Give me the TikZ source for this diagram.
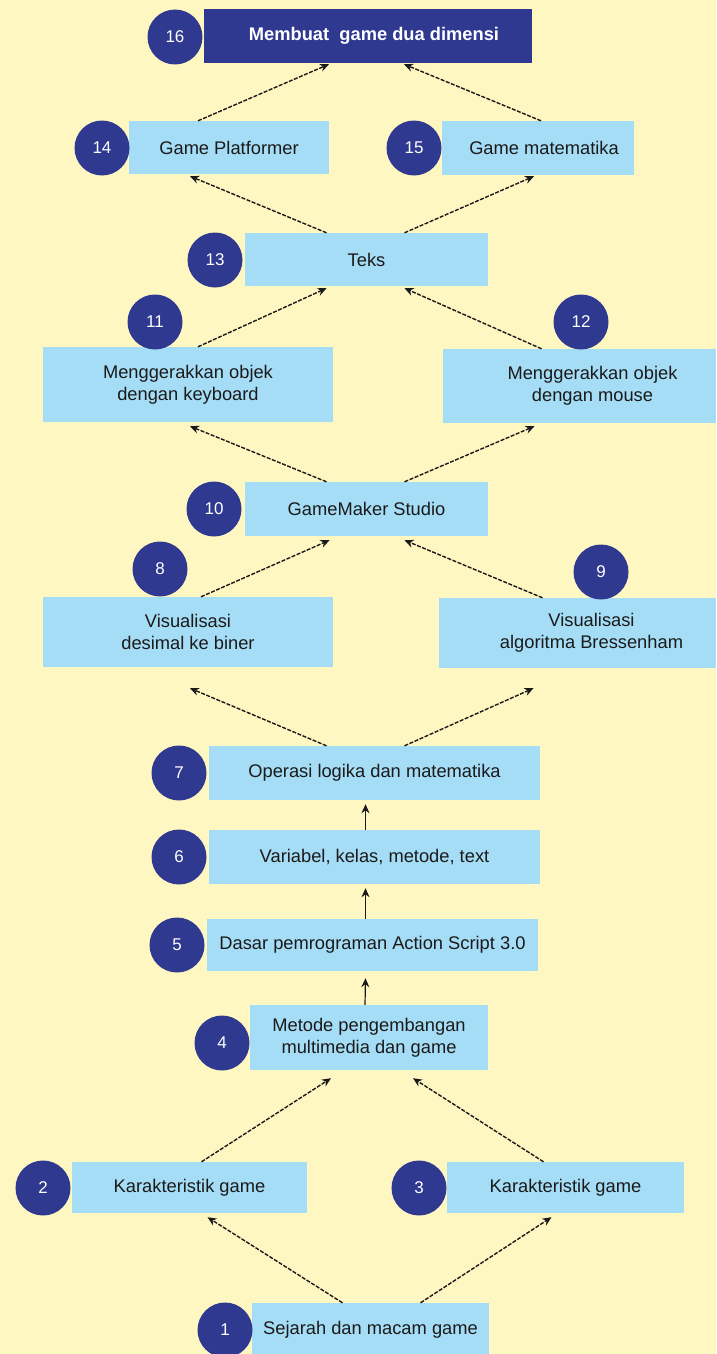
\documentclass[tikz,border=0pt]{standalone}
\usepackage{fontspec}
\setmainfont{Liberation Sans}
\usetikzlibrary{arrows.meta}
\definecolor{bgcolor}{HTML}{FFF7C2}
\definecolor{boxcolor}{HTML}{A6DDF6}
\definecolor{numcolor}{HTML}{2F3990}
\definecolor{linecolor}{HTML}{1A1A1A}

\begin{document}
\begin{tikzpicture}[x=1pt, y=-1pt,
    box/.style={fill=boxcolor, inner sep=0pt, align=center, text=linecolor,
      font=\fontsize{18.3}{21.7}\selectfont},
    topbox/.style={box, fill=numcolor, text=white, font=\fontsize{18.3}{21.7}\selectfont\bfseries},
    num/.style={circle, fill=numcolor, minimum size=55pt, inner sep=0pt, text=white,
      font=\fontsize{17}{17}\selectfont},
    link/.style={-{Stealth[length=9pt,width=8pt]}, dash pattern=on 4pt off 1.5pt, line width=1.4pt, draw=linecolor},
    uplink/.style={-{Stealth[length=9pt,width=8pt]}, line width=1.2pt, draw=linecolor}]
  \useasboundingbox (0,0) rectangle (716,1354);
  \fill[bgcolor] (0,0) rectangle (716,1354);

  \node[topbox, minimum width=328pt, minimum height=54pt] (b16) at (368,36) {\hspace*{12pt}Membuat~~game dua dimensi};
  \node[box, minimum width=200pt, minimum height=53pt] (b14) at (229,147.5) {Game Platformer};
  \node[box, minimum width=192pt, minimum height=54pt] (b15) at (538,148) {\hspace*{12pt}Game matematika};
  \node[box, minimum width=243pt, minimum height=53pt] (b13) at (366.5,259.5) {Teks};
  \node[box, minimum width=290pt, minimum height=75pt] (b11) at (188,384.5) {Menggerakkan objek\\dengan keyboard};
  \node[box, minimum width=273pt, minimum height=74pt] (b12) at (579.5,386) {\hspace*{26pt}Menggerakkan objek\\\hspace*{26pt}dengan mouse};
  \node[box, minimum width=243pt, minimum height=54pt] (b10) at (366.5,509) {GameMaker Studio};
  \node[box, minimum width=290pt, minimum height=70pt] (b8) at (188,632) {Visualisasi\\desimal ke biner};
  \node[box, minimum width=277pt, minimum height=70pt] (b9) at (577.5,633) {\hspace*{28pt}Visualisasi\\\hspace*{28pt}algoritma Bressenham};
  \node[box, minimum width=331pt, minimum height=54pt] (b7) at (374.5,773) {Operasi logika dan matematika};
  \node[box, minimum width=331pt, minimum height=54pt] (b6) at (374.5,857) {Variabel, kelas, metode, text};
  \node[box, minimum width=331pt, minimum height=52pt] (b5) at (372.5,945) {Dasar pemrograman Action Script 3.0};
  \node[box, minimum width=238pt, minimum height=65pt] (b4) at (369,1037.5) {Metode pengembangan\\multimedia dan game};
  \node[box, minimum width=235pt, minimum height=51pt] (b2) at (189.5,1187.5) {Karakteristik game};
  \node[box, minimum width=237pt, minimum height=51pt] (b3) at (565.5,1187.5) {Karakteristik game};
  \node[box, minimum width=237pt, minimum height=54pt] (b1) at (370.5,1330) {Sejarah dan macam game};

  \node[num] (c16) at (175,37) {16};
  \node[num] (c14) at (102,148) {14};
  \node[num] (c15) at (414,148) {15};
  \node[num] (c13) at (215,260) {13};
  \node[num] (c11) at (155,322) {11};
  \node[num] (c12) at (581,322) {12};
  \node[num] (c10) at (214,509) {10};
  \node[num] (c8) at (160,569) {8};
  \node[num] (c9) at (601,572) {9};
  \node[num] (c7) at (179,773) {7};
  \node[num] (c6) at (179,857) {6};
  \node[num] (c5) at (177,945) {5};
  \node[num] (c4) at (222,1043) {4};
  \node[num] (c2) at (43,1188) {2};
  \node[num] (c3) at (419,1188) {3};
  \node[num] (c1) at (225,1330) {1};

  \coordinate (e8) at ([xshift=2pt,yshift=-21pt]b8.south);
  \coordinate (e9) at ([xshift=-44pt,yshift=-20pt]b9.south);

  \draw[link] ([xshift=-31pt]b14.north) -- ([xshift=-39pt,yshift=-1pt]b16.south);
  \draw[link] ([xshift=3pt]b15.north) -- ([xshift=36pt,yshift=-1pt]b16.south);
  \draw[link] ([xshift=-40pt]b13.north) -- ([xshift=-39pt,yshift=-2pt]b14.south);
  \draw[link] ([xshift=38pt]b13.north) -- ([xshift=-4pt,yshift=-1pt]b15.south);
  \draw[link] ([xshift=10pt]b11.north) -- ([xshift=-40pt,yshift=-2pt]b13.south);
  \draw[link] ([xshift=-38pt]b12.north) -- ([xshift=38pt,yshift=-2pt]b13.south);
  \draw[link] ([xshift=-40pt]b10.north) -- ([xshift=2pt,yshift=-4pt]b11.south);
  \draw[link] ([xshift=38pt]b10.north) -- ([xshift=-45pt,yshift=-3pt]b12.south);
  \draw[link] ([xshift=13pt]b8.north) -- ([xshift=-37pt,yshift=-4pt]b10.south);
  \draw[link] ([xshift=-35pt]b9.north) -- ([xshift=38pt,yshift=-4pt]b10.south);
  \draw[link] ([xshift=-48pt]b7.north) -- (e8);
  \draw[link] ([xshift=30pt]b7.north) -- (e9);
  \draw[uplink] ([xshift=-9pt]b6.north) -- ([xshift=-9pt,yshift=-4pt]b7.south);
  \draw[uplink] ([xshift=-7pt]b5.north) -- ([xshift=-9pt,yshift=-4pt]b6.south);
  \draw[uplink] ([xshift=-4pt]b4.north) -- ([xshift=-7pt,yshift=-7pt]b5.south);
  \draw[link] ([xshift=12pt]b2.north) -- ([xshift=-38pt,yshift=-8pt]b4.south);
  \draw[link] ([xshift=-22pt]b3.north) -- ([xshift=44pt,yshift=-8pt]b4.south);
  \draw[link] ([xshift=-28pt]b1.north) -- ([xshift=18pt,yshift=-4pt]b2.south);
  \draw[link] ([xshift=50pt]b1.north) -- ([xshift=-14pt,yshift=-4pt]b3.south);
\end{tikzpicture}
\end{document}
